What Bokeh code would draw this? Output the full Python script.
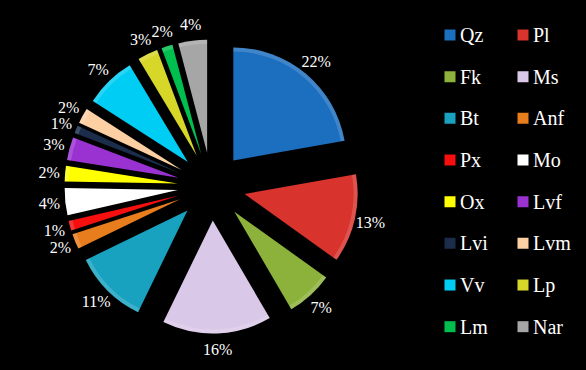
import math
from bokeh.plotting import figure
from bokeh.models import ColumnDataSource, Range1d
from bokeh.embed import file_html
from bokeh.resources import INLINE
from bokeh.core.properties import value

# ---- data ----
categories = ["Qz", "Pl", "Fk", "Ms", "Bt", "Anf", "Px", "Mo",
              "Ox", "Lvf", "Lvi", "Lvm", "Vv", "Lp", "Lm", "Nar"]
shares = [22.2, 12.7, 6.7, 15.6, 10.6, 2.2, 1.4, 3.9,
          2.2, 3.3, 1.1, 2.2, 7.3, 2.9, 1.6, 4.1]
colors = ["#1c6ebf", "#d8332d", "#8cb23c", "#dac8e8", "#18a2bf", "#e77d1c",
          "#f50f0f", "#ffffff", "#ffff00", "#9a32d2", "#1b2d4a", "#fdd0a4",
          "#00cdf3", "#d7d72a", "#00bf4f", "#a6a6a6"]

# ---- layout ----
W, H = 586, 370
CX, CY = 211, 184      # pie centre (data units = screen pixels, y up)
R = 113                # radius
E = 34                 # explosion offset
L = 163                # label distance
FONT = value("Liberation Serif")

p = figure(width=W, height=H, x_range=Range1d(0, W), y_range=Range1d(0, H),
           output_backend="svg", toolbar_location=None, min_border=0,
           background_fill_color="black", border_fill_color="black",
           outline_line_color=None)
p.axis.visible = False
p.grid.visible = False

total = sum(shares)
xs, ys, starts, ends, lx, ly, labels = [], [], [], [], [], [], []
cum = 0.0
for s in shares:
    a0 = math.pi / 2 - 2 * math.pi * cum / total
    cum += s
    a1 = math.pi / 2 - 2 * math.pi * cum / total
    mid = (a0 + a1) / 2
    xs.append(CX + E * math.cos(mid))
    ys.append(CY + E * math.sin(mid))
    starts.append(a0)
    ends.append(a1)
    lx.append(CX + L * math.cos(mid))
    ly.append(CY + L * math.sin(mid))
    labels.append(f"{round(s / total * 100)}%")

src = ColumnDataSource(dict(x=xs, y=ys, start=starts, end=ends, color=colors,
                            lx=lx, ly=ly, label=labels, cat=categories))
p.wedge(x="x", y="y", radius=R, start_angle="start", end_angle="end",
        direction="clock", fill_color="color", line_color=None, source=src)
# soft bevel highlight along the outer rim
p.annular_wedge(x="x", y="y", inner_radius=R - 4, outer_radius=R,
                start_angle="start", end_angle="end", direction="clock",
                fill_color="white", fill_alpha=0.16, line_color=None, source=src)
p.text(x="lx", y="ly", text="label", source=src, text_color="white",
       text_font=FONT, text_font_size="16px",
       text_align="center", text_baseline="middle")

# ---- legend (2 columns) ----
mx, my, tx = [], [], []
for i in range(len(categories)):
    col, row = i % 2, i // 2
    x0 = 449.5 + col * 73
    y0 = H - (34.5 + row * 41.67)
    mx.append(x0)
    my.append(y0)
    tx.append(x0 + 10)
lsrc = ColumnDataSource(dict(x=mx, y=my, tx=tx, color=colors, cat=categories))
p.rect(x="x", y="y", width=11, height=11, fill_color="color", line_color=None, source=lsrc)
p.text(x="tx", y="y", text="cat", source=lsrc, text_color="white",
       text_font=FONT, text_font_size="20px",
       text_align="left", text_baseline="middle")

html = file_html(p, INLINE)
html = html.replace("<head>", "<head><style>html,body{background:#000;}</style>", 1)
open("out.html", "w").write(html)
